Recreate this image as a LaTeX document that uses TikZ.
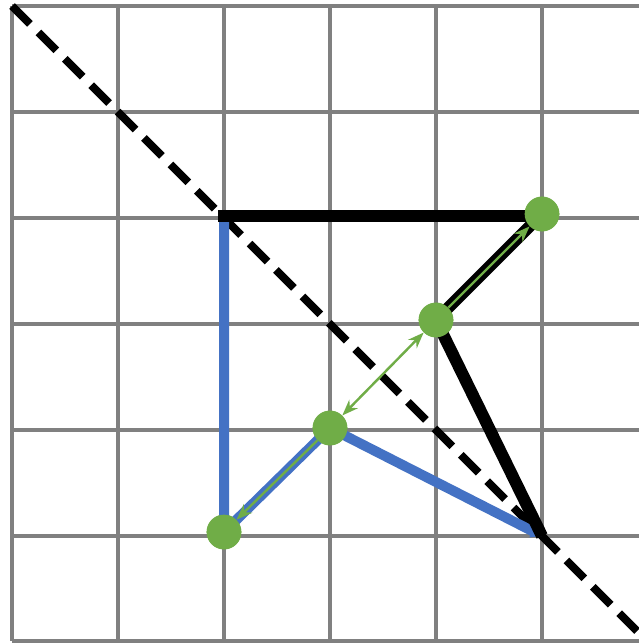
\documentclass[tikz,border=0pt]{standalone}
\usetikzlibrary{arrows.meta}
\definecolor{ggreen}{HTML}{70AD47}
\definecolor{gblue}{HTML}{4472C4}
\begin{document}
\begin{tikzpicture}[x=0.75pt,y=-0.75pt,
  gridline/.style={draw=gray, line width=2.3pt},
  diagline/.style={draw=black, line width=6pt, dash pattern=on 19pt off 9pt},
  dot/.style={circle, fill=ggreen, minimum size=26pt, inner sep=0pt},
  blackline/.style={draw=black, line width=9pt},
  blueline/.style={draw=gblue, line width=7.5pt},
  garrow/.style={draw=ggreen, line width=1.8pt, -{Stealth[length=12pt,width=9pt]}},
  gdarrow/.style={draw=ggreen, line width=1.8pt, {Stealth[length=12pt,width=9pt]}-{Stealth[length=12pt,width=9pt]}}]
\useasboundingbox (0,0) rectangle (639,643);
\fill[white] (0,0) rectangle (639,643);
\begin{scope}
  \clip (0,0) rectangle (639,643);
  \foreach \x in {12,118,224,330,436,542} \draw[gridline] (\x,6) -- (\x,641);
  \foreach \y in {6,112,218,324,430,536,641} \draw[gridline] (12,\y) -- (648,\y);
  \draw[diagline] (12,6) -- (648,642);
\end{scope}
\coordinate (a) at (218,216);
\coordinate (ae) at (542,216);
\coordinate (av) at (224,214);
\coordinate (b) at (542,536);
\node[dot] (p1) at (542,214) {};
\node[dot] (p2) at (436,320) {};
\node[dot] (p3) at (330,428) {};
\node[dot] (p4) at (224,532) {};
\draw[blueline] (av) -- (p4.center) -- (p3.center);
\draw[blueline, -{Triangle[length=8pt,width=10pt]}] (p3.center) -- (b);
\draw[blackline] (a) -- (ae);
\draw[blackline] (p1.center) -- (p2.center) -- (b);
\node[dot] at (p1) {};
\node[dot] at (p2) {};
\node[dot] at (p3) {};
\node[dot] at (p4) {};
\draw[garrow] (p2) -- (p1);
\draw[gdarrow] (p3) -- (p2);
\draw[garrow] (p3) -- (p4);
\end{tikzpicture}
\end{document}
